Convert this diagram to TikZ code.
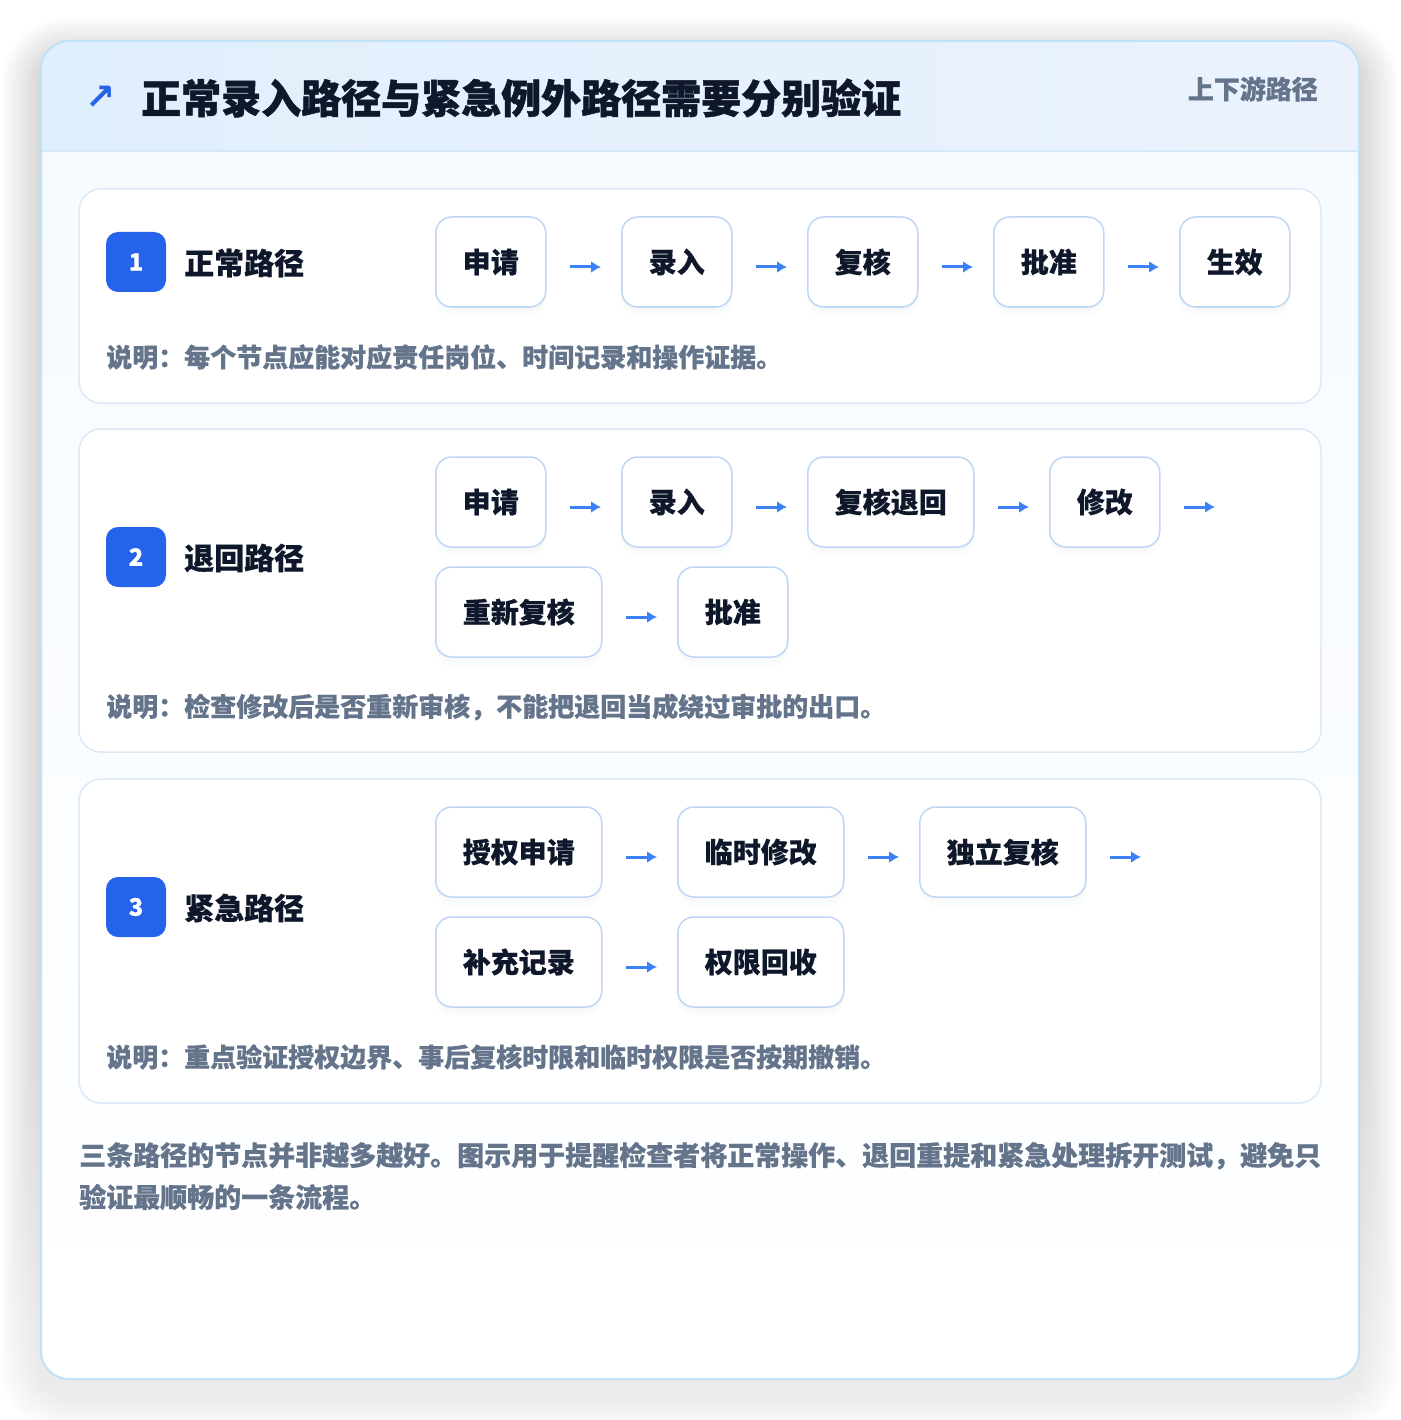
\documentclass[tikz,border=0pt]{standalone}
\usepackage{fontspec}
\setmainfont{Noto Sans CJK SC}[BoldFeatures={FakeBold=0.4}]
\newfontfamily\heavyfont{Noto Sans CJK SC}[BoldFeatures={FakeBold=1.2}]
\newfontfamily\symfont{DejaVu Sans}
\usetikzlibrary{positioning,arrows.meta}

\definecolor{cardline}{HTML}{BFE2F6}
\definecolor{headL}{HTML}{E0EFFC}
\definecolor{headR}{HTML}{EBF2FE}
\definecolor{headline}{HTML}{D4E8F8}
\definecolor{cardtop}{HTML}{F5FAFF}
\definecolor{panelline}{HTML}{DCE9F7}
\definecolor{boxline}{HTML}{BFD6F4}
\definecolor{flowblue}{HTML}{3B82F6}
\definecolor{badgeblue}{HTML}{2563EB}
\definecolor{ink}{HTML}{0F172A}
\definecolor{muted}{HTML}{64748B}
\definecolor{shade}{HTML}{334155}

\tikzset{
  stepbox/.style={draw=boxline, line width=1.5pt, fill=white, rounded corners=16pt,
    minimum height=90pt, minimum width=110pt, inner xsep=27pt,
    font=\fontsize{28}{28}\selectfont\bfseries, text=ink,
    preaction={fill=shade, fill opacity=0.02, transform canvas={yshift=-4pt}},
    preaction={fill=shade, fill opacity=0.015, transform canvas={yshift=-9pt}}},
  flow/.style={-{Latex[length=10pt,width=12pt]}, line width=3pt, draw=flowblue},
  badge/.style={fill=badgeblue, rounded corners=12pt, minimum size=60pt, inner sep=0pt,
    text=white, font=\fontsize{24}{24}\selectfont\bfseries},
  pathname/.style={anchor=west, inner sep=0pt, font=\fontsize{30}{30}\selectfont\bfseries, text=ink},
  note/.style={anchor=west, inner sep=0pt, font=\fontsize{26}{26}\selectfont\bfseries, text=muted},
  panel/.style={draw=panelline, line width=1.5pt, fill=white, rounded corners=22pt},
}

\begin{document}
\begin{tikzpicture}[x=1pt, y=-1pt]
    \fill[white] (0,0) rectangle (1400,1420);
    \useasboundingbox (0,0) rectangle (1400,1420);

    % card shadow, card and header
    \foreach \r in {2,4,...,40} {
        \pgfmathsetmacro\rr{28+\r}
        \fill[shade, fill opacity=0.003, rounded corners=\rr pt] (41-\r,41-\r+16) rectangle (1359+\r,1379+\r+16);
    }
    \shade[rounded corners=28pt, top color=cardtop, bottom color=white] (41,41) rectangle (1359,1379);
    \begin{scope}
        \clip[rounded corners=28pt] (41,41) rectangle (1359,1379);
        \shade[left color=headL, right color=headR] (41,41) rectangle (1359,151);
    \end{scope}
    \draw[headline, line width=1.5pt] (42,151) -- (1358,151);
    \draw[cardline, line width=2pt, rounded corners=28pt] (41,41) rectangle (1359,1379);

    \node[text=badgeblue, font=\symfont\fontsize{36}{36}\selectfont\bfseries] (icon) at (101,98) {↗};
    \node[anchor=west, inner sep=0pt, font=\heavyfont\fontsize{40}{40}\selectfont\bfseries, text=ink] (title) at (141,98) {正常录入路径与紧急例外路径需要分别验证};
    \node[anchor=east, inner sep=0pt, font=\fontsize{26}{26}\selectfont\bfseries, text=muted] (tag) at (1318,89) {上下游路径};

    % 1 normal path
    \draw[panel] (79,189) rectangle (1321,403);
    \node[badge] (b1) at (136,262) {1};
    \node[pathname] (p1) at (184,263) {正常路径};
    \node[stepbox, anchor=west] (n1a) at (435,262) {申请};
    \node[stepbox, right=74.5pt of n1a] (n1b) {录入};
    \node[stepbox, right=74.5pt of n1b] (n1c) {复核};
    \node[stepbox, right=74.5pt of n1c] (n1d) {批准};
    \node[stepbox, right=74.5pt of n1d] (n1e) {生效};
    \draw[flow] ([xshift=23pt,yshift=-5pt]n1a.east) -- ([xshift=-20pt,yshift=-5pt]n1b.west);
    \draw[flow] ([xshift=23pt,yshift=-5pt]n1b.east) -- ([xshift=-20pt,yshift=-5pt]n1c.west);
    \draw[flow] ([xshift=23pt,yshift=-5pt]n1c.east) -- ([xshift=-20pt,yshift=-5pt]n1d.west);
    \draw[flow] ([xshift=23pt,yshift=-5pt]n1d.east) -- ([xshift=-20pt,yshift=-5pt]n1e.west);
    \node[note] (t1) at (106,357) {说明：每个节点应能对应责任岗位、时间记录和操作证据。};

    % 2 return path
    \draw[panel] (79,429) rectangle (1321,752);
    \node[badge] (b2) at (136,557) {2};
    \node[pathname] (p2) at (184,558) {退回路径};
    \node[stepbox, anchor=west] (n2a) at (435,502) {申请};
    \node[stepbox, right=74.5pt of n2a] (n2b) {录入};
    \node[stepbox, right=74.5pt of n2b] (n2c) {复核退回};
    \node[stepbox, right=74.5pt of n2c] (n2d) {修改};
    \coordinate[right=74.5pt of n2d.east] (n2end);
    \node[stepbox, below=18.5pt of n2a.south west, anchor=north west] (n2e) {重新复核};
    \node[stepbox, right=74.5pt of n2e] (n2f) {批准};
    \draw[flow] ([xshift=23pt,yshift=-5pt]n2a.east) -- ([xshift=-20pt,yshift=-5pt]n2b.west);
    \draw[flow] ([xshift=23pt,yshift=-5pt]n2b.east) -- ([xshift=-20pt,yshift=-5pt]n2c.west);
    \draw[flow] ([xshift=23pt,yshift=-5pt]n2c.east) -- ([xshift=-20pt,yshift=-5pt]n2d.west);
    \draw[flow] ([xshift=23pt,yshift=-5pt]n2d.east) -- ([xshift=-20pt,yshift=-5pt]n2end);
    \draw[flow] ([xshift=23pt,yshift=-5pt]n2e.east) -- ([xshift=-20pt,yshift=-5pt]n2f.west);
    \node[note] (t2) at (106,707) {说明：检查修改后是否重新审核，不能把退回当成绕过审批的出口。};

    % 3 emergency path
    \draw[panel] (79,779) rectangle (1321,1103);
    \node[badge] (b3) at (136,907) {3};
    \node[pathname] (p3) at (184,908) {紧急路径};
    \node[stepbox, anchor=west] (n3a) at (435,852) {授权申请};
    \node[stepbox, right=74.5pt of n3a] (n3b) {临时修改};
    \node[stepbox, right=74.5pt of n3b] (n3c) {独立复核};
    \coordinate[right=74.5pt of n3c.east] (n3end);
    \node[stepbox, below=18.5pt of n3a.south west, anchor=north west] (n3d) {补充记录};
    \node[stepbox, right=74.5pt of n3d] (n3e) {权限回收};
    \draw[flow] ([xshift=23pt,yshift=-5pt]n3a.east) -- ([xshift=-20pt,yshift=-5pt]n3b.west);
    \draw[flow] ([xshift=23pt,yshift=-5pt]n3b.east) -- ([xshift=-20pt,yshift=-5pt]n3c.west);
    \draw[flow] ([xshift=23pt,yshift=-5pt]n3c.east) -- ([xshift=-20pt,yshift=-5pt]n3end);
    \draw[flow] ([xshift=23pt,yshift=-5pt]n3d.east) -- ([xshift=-20pt,yshift=-5pt]n3e.west);
    \node[note] (t3) at (106,1057) {说明：重点验证授权边界、事后复核时限和临时权限是否按期撤销。};

    % footer
    \node[anchor=west, inner sep=0pt, align=left, font=\fontsize{27}{42}\selectfont\bfseries, text=muted] (foot) at (79,1176)
        {三条路径的节点并非越多越好。图示用于提醒检查者将正常操作、退回重提和紧急处理拆开测试，避免只\\验证最顺畅的一条流程。};
\end{tikzpicture}
\end{document}
